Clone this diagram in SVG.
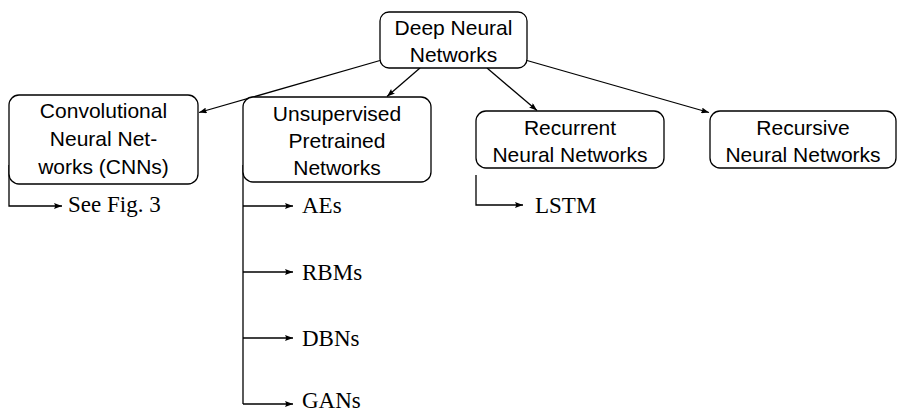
<svg xmlns="http://www.w3.org/2000/svg" width="897" height="413" viewBox="0 0 897 413">
<style>
.box{fill:#fff;stroke:#000;stroke-width:1.3}
.t{font-family:"Liberation Sans",Arial,sans-serif;font-size:21px;text-anchor:middle;fill:#000}
.s{font-family:"Liberation Serif","Times New Roman",serif;font-size:23px;fill:#000}
.c{fill:none;stroke:#000;stroke-width:1.3}
</style>
<defs>
<marker id="ah" viewBox="0 0 8 6" refX="8" refY="3" markerWidth="8" markerHeight="6" markerUnits="userSpaceOnUse" orient="auto">
<path d="M0,0 Q2,3 0,6 L8,3 Z" fill="#000"/>
</marker>
</defs>
<g id="connectors">
<line class="c" x1="380" y1="60.5" x2="199" y2="112.5" marker-end="url(#ah)"/>
<line class="c" x1="420" y1="68" x2="387" y2="96.5" marker-end="url(#ah)"/>
<line class="c" x1="487" y1="68" x2="537" y2="110.5" marker-end="url(#ah)"/>
<line class="c" x1="527" y1="60.5" x2="709" y2="112.5" marker-end="url(#ah)"/>
<path class="c" d="M9,165 V206 H62" marker-end="url(#ah)"/>
<path class="c" d="M243,165 V404"/>
<path class="c" d="M243,206 H293" marker-end="url(#ah)"/>
<path class="c" d="M243,272 H293" marker-end="url(#ah)"/>
<path class="c" d="M243,338 H293" marker-end="url(#ah)"/>
<path class="c" d="M243,404 H293" marker-end="url(#ah)"/>
<path class="c" d="M476,175 V205 H523" marker-end="url(#ah)"/>
</g>
<g id="root">
<rect class="box" x="380" y="12" width="147" height="56" rx="9"/>
<text class="t" x="453.5" y="35">Deep Neural</text>
<text class="t" x="453.5" y="62">Networks</text>
</g>
<g id="cnn">
<rect class="box" x="9" y="95" width="189" height="89" rx="10"/>
<text class="t" x="103.5" y="118">Convolutional</text>
<text class="t" x="103.5" y="146">Neural Net-</text>
<text class="t" x="103.5" y="174">works (CNNs)</text>
</g>
<g id="unsup">
<rect class="box" x="243" y="97" width="188" height="85" rx="10"/>
<text class="t" x="337" y="121">Unsupervised</text>
<text class="t" x="337" y="148">Pretrained</text>
<text class="t" x="337" y="175">Networks</text>
</g>
<g id="rnn">
<rect class="box" x="476" y="111" width="188" height="57" rx="10"/>
<text class="t" x="570" y="135">Recurrent</text>
<text class="t" x="570" y="162">Neural Networks</text>
</g>
<g id="recnn">
<rect class="box" x="710" y="111" width="186" height="57" rx="10"/>
<text class="t" x="803" y="135">Recursive</text>
<text class="t" x="803" y="162">Neural Networks</text>
</g>
<g id="leaves">
<text class="s" x="68" y="212">See Fig. 3</text>
<text class="s" x="302" y="213">AEs</text>
<text class="s" x="302" y="280">RBMs</text>
<text class="s" x="302" y="346">DBNs</text>
<text class="s" x="302" y="408">GANs</text>
<text class="s" x="535" y="213">LSTM</text>
</g>
</svg>
